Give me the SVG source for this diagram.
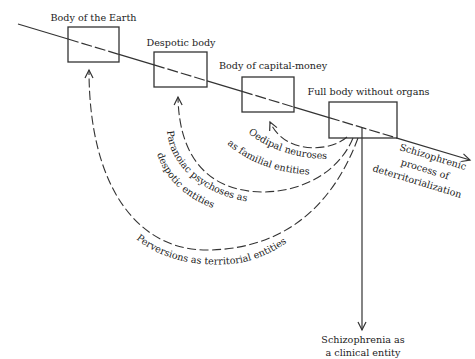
<svg xmlns="http://www.w3.org/2000/svg" width="475" height="359" viewBox="0 0 475 359">
<style>
.box{fill:none;stroke:#333;stroke-width:1.3}
.ln{fill:none;stroke:#333;stroke-width:1.2}
.dl{fill:none;stroke:#333;stroke-width:1.1;stroke-dasharray:9 3.5}
.din{fill:none;stroke:#333;stroke-width:1.2;stroke-dasharray:11 3}
text{font-family:"DejaVu Serif","Liberation Serif",serif;font-size:9.6px;fill:#222}
.m{text-anchor:middle}
</style>
<defs>
<marker id="ah" markerWidth="12" markerHeight="12" refX="0" refY="0" viewBox="-10 -6 12 12" orient="auto" markerUnits="userSpaceOnUse">
<path d="M-8,-4 L0,0 L-8,4" fill="none" stroke="#333" stroke-width="1.2" stroke-dasharray="none"/>
</marker>
<path id="p1" d="M248,133 Q282,160 336,159"/>
<path id="p2" d="M227,144 Q262,174 318,175"/>
<path id="p3" d="M167,131 C170,170 210,200 262,203"/>
<path id="p4" d="M157,154 C169,190 204,211 246,216"/>
<path id="p5" d="M136,239 C165,262 200,266 230,264 C256,262 276,251 296,236"/>
</defs>

<g id="connectors">
<path class="ln" d="M18,24 L68,39.05"/>
<path class="din" d="M68,39.05 L119,54.4"/>
<path class="ln" d="M119,54.4 L154,64.9"/>
<path class="din" d="M154,64.9 L207,80.9"/>
<path class="ln" d="M207,80.9 L242,91.4"/>
<path class="din" d="M242,91.4 L294,107.1"/>
<path class="ln" d="M294,107.1 L329,117.6"/>
<path class="din" d="M329,117.6 L397,138.1"/>
<path class="ln" d="M397,138.1 L470,160" marker-end="url(#ah)"/>
<path class="ln" d="M362,127.6 L362,330" marker-end="url(#ah)"/>
<path class="dl" d="M347,137 C330,152 285,155 270,122" marker-end="url(#ah)"/>
<path class="dl" d="M353,138 C340,170 305,192 262,192 C207,191 179,156 178,97" marker-end="url(#ah)"/>
<path class="dl" d="M358,138 C335,200 290,248 210,250 C140,252 89,190 89,70" marker-end="url(#ah)"/>
</g>

<g id="body-earth">
<rect class="box" x="68" y="27" width="51" height="35"/>
<text class="m" x="93.5" y="21">Body of the Earth</text>
</g>
<g id="despotic-body">
<rect class="box" x="154" y="52" width="53" height="35"/>
<text class="m" x="181" y="46">Despotic body</text>
</g>
<g id="capital-money">
<rect class="box" x="242" y="77" width="52" height="35"/>
<text class="m" x="273" y="69">Body of capital-money</text>
</g>
<g id="full-body">
<rect class="box" x="329" y="102" width="68" height="36"/>
<text class="m" x="368.5" y="95">Full body without organs</text>
</g>

<g id="schizo-process">
<g transform="translate(432,160) rotate(17)">
<text class="m" x="0" y="0">Schizophrenic</text>
<text class="m" x="-4" y="14">process of</text>
<text class="m" x="-8" y="28">deterritorialization</text>
</g>
</g>

<g id="schizo-clinical">
<text class="m" x="363" y="343">Schizophrenia as</text>
<text class="m" x="363" y="356">a clinical entity</text>
</g>

<g id="oedipal-label">
<text><textPath href="#p1">Oedipal neuroses</textPath></text>
<text><textPath href="#p2">as familial entities</textPath></text>
</g>
<g id="paranoiac-label">
<text><textPath href="#p3">Paranoiac psychoses as</textPath></text>
<text><textPath href="#p4">despotic entities</textPath></text>
</g>
<g id="perversions-label">
<text><textPath href="#p5">Perversions as territorial entities</textPath></text>
</g>
</svg>
